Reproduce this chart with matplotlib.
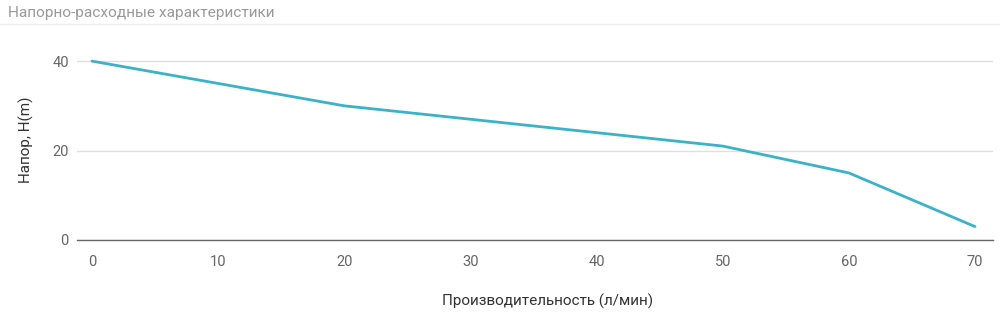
import matplotlib
matplotlib.use("Agg")
import matplotlib.pyplot as plt
from matplotlib.lines import Line2D

# pump curve: flow (l/min) vs head (m)
flow = [0, 10, 20, 30, 40, 50, 60, 70]
head = [40, 35, 30, 27, 24, 21, 15, 3]
x_ticks = [0, 10, 20, 30, 40, 50, 60, 70]
y_ticks = [0, 20, 40]

plt.rcParams['font.family'] = ['Roboto', 'DejaVu Sans']

fig = plt.figure(figsize=(10, 3.12), dpi=100)
ax = fig.add_axes([0.077, 0.2308, 0.916, 0.645])

ax.plot(flow, head, color='#3ab3c9', linewidth=2.0, clip_on=False, solid_capstyle='round')

ax.set_xlim(-1.19, 71.43)
ax.set_ylim(0, 45)
ax.set_xticks(x_ticks)
ax.set_yticks(y_ticks)
ax.grid(axis='y', color='#e0e0e0', linewidth=1)
ax.grid(axis='x', visible=False)
ax.set_axisbelow(True)
for side in ['top', 'right', 'left']:
    ax.spines[side].set_visible(False)
ax.spines['bottom'].set_color('#666666')
ax.spines['bottom'].set_linewidth(1)
ax.tick_params(length=0, labelsize=10.5, labelcolor='#666666')
ax.tick_params(axis='x', pad=11)
ax.tick_params(axis='y', pad=6)

ax.set_xlabel('Производительность (л/мин)', fontsize=11, color='#333333')
ax.xaxis.set_label_coords(0.514, -0.265)
ax.set_ylabel('Напор, H(m)', fontsize=11, color='#333333', labelpad=13)

fig.text(0.008, 0.957, 'Напорно-расходные характеристики', fontsize=11.1,
         color='#999999', va='center', ha='left')
fig.add_artist(Line2D([0, 1], [1 - 24 / 312, 1 - 24 / 312], color='#eeeeee', linewidth=1))

fig.savefig('out.png', dpi=100, facecolor='white')
